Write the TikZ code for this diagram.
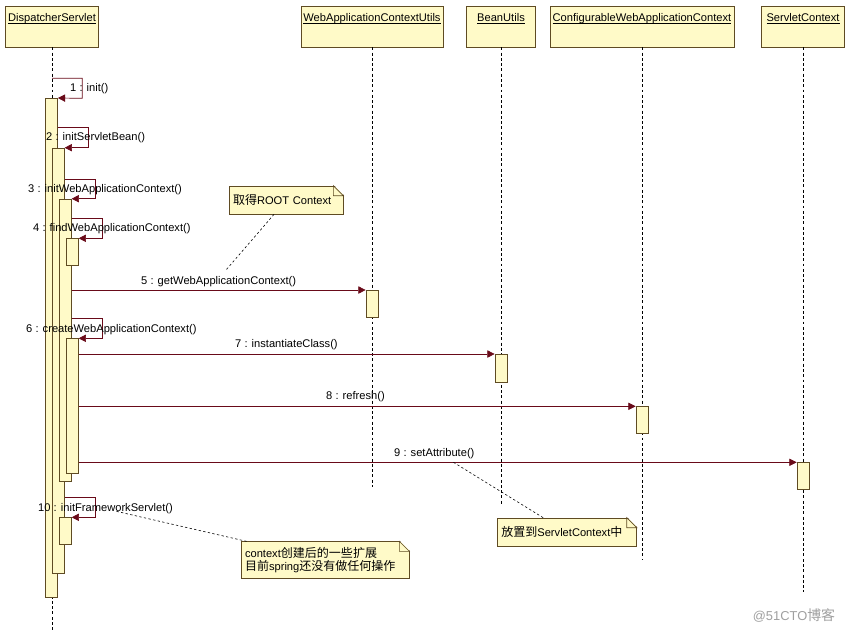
\documentclass[tikz,border=0pt]{standalone}
\usepackage{fontspec}
\setmainfont{Liberation Sans}
\newfontfamily\cjk[Scale=1.08]{Noto Sans CJK SC}
\usetikzlibrary{arrows.meta}
\definecolor{boxfill}{RGB}{255,250,200}
\definecolor{boxline}{RGB}{95,75,35}
\definecolor{msgred}{RGB}{105,10,25}
\newcommand\notefold[1]{%
  \fill[white] ([xshift=-0.3cm,yshift=1pt]#1.north east) -- ([xshift=1pt,yshift=1pt]#1.north east)
    -- ([xshift=1pt,yshift=-0.3cm]#1.north east) -- cycle;
  \draw[boxline, line width=0.6pt] ([xshift=-0.3cm]#1.north east) -- ([yshift=-0.3cm]#1.north east)
    -- ++(-0.3cm,0cm) -- cycle;}
\newcommand\headline[1]{\underline{\smash{#1}}}

\begin{document}
\begin{tikzpicture}[x=0.03cm, y=-0.03cm,
    font=\fontsize{9.5}{11.5}\selectfont,
    head/.style={draw=boxline, fill=boxfill, line width=0.6pt, minimum height=1.23cm, inner sep=0pt},
    bar/.style={draw=boxline, fill=boxfill, line width=0.6pt, minimum width=0.36cm, inner sep=0pt, anchor=north},
    note/.style={draw=boxline, fill=boxfill, line width=0.6pt, inner xsep=0.12cm, inner ysep=0pt, align=left},
    msg/.style={draw=msgred, line width=0.6pt, -{Triangle[length=0.22cm,width=0.22cm]}},
    life/.style={line width=0.5pt, dash pattern=on 2.5pt off 2pt},
    link/.style={line width=0.5pt, dash pattern=on 2pt off 2pt},
    lbl/.style={anchor=west, inner sep=0pt}]
  \useasboundingbox (0,0) rectangle (850,633);

  \node[head, minimum width=2.81cm] (ds)   at (52,26.5)  {};
  \node[head, minimum width=4.26cm] (wacu) at (372,26.5) {};
  \node[head, minimum width=2.07cm] (bu)   at (501,26.5) {};
  \node[head, minimum width=5.52cm] (cwac) at (642,26.5) {};
  \node[head, minimum width=2.49cm] (sc)   at (803,26.5) {};
  \node (dst)   at ([yshift=-0.5cm]ds.north)   {\headline{DispatcherServlet}};
  \node (wacut) at ([yshift=-0.5cm]wacu.north) {\headline{WebApplicationContextUtils}};
  \node (but)   at ([yshift=-0.5cm]bu.north)   {\headline{BeanUtils}};
  \node (cwact) at ([yshift=-0.5cm]cwac.north) {\headline{ConfigurableWebApplicationContext}};
  \node (sct)   at ([yshift=-0.5cm]sc.north)   {\headline{ServletContext}};

  \draw[life] (ds.south)   -- (ds |- 0,630);
  \draw[life] (wacu.south) -- (wacu |- 0,487);
  \draw[life] (bu.south)   -- (bu |- 0,505);
  \draw[life] (cwac.south) -- (cwac |- 0,559);
  \draw[life] (sc.south)   -- (sc |- 0,592);

  \node[bar, minimum height=14.97cm] (b1)  at (51.5,98)    {};
  \node[bar, minimum height=12.77cm] (b2)  at (58.3,147.7) {};
  \node[bar, minimum height=8.47cm]  (b3)  at (65.3,198.7) {};
  \node[bar, minimum height=0.8cm]   (b4)  at (72.3,238.3) {};
  \node[bar, minimum height=4.05cm]  (b6)  at (72.3,338.3) {};
  \node[bar, minimum height=0.81cm]  (b10) at (65.3,517.3) {};
  \node[bar, minimum height=0.81cm]  (b5)  at (wacu |- 0,290)   {};
  \node[bar, minimum height=0.83cm]  (b7)  at (bu |- 0,354)     {};
  \node[bar, minimum height=0.81cm]  (b8)  at (cwac |- 0,406.3) {};
  \node[bar, minimum height=0.81cm]  (b9)  at (sc |- 0,462.3)   {};

  \draw[msg] (ds |- 0,78.3)      -| (82.3,98.3)   -- (b1.north east);
  \draw[msg] (b1.east |- 0,127.3) -| (88.3,147.7)  -- (b2.north east);
  \draw[msg] (b2.east |- 0,179.3) -| (95.3,198.7)  -- (b3.north east);
  \draw[msg] (b3.east |- 0,218.3) -| (102.3,238.3) -- (b4.north east);
  \draw[msg] (b3.east |- 0,318.7) -| (102.3,338.3) -- (b6.north east);
  \draw[msg] (b2.east |- 0,497.3) -| (95.7,517.3)  -- (b10.north east);
  \draw[msg] (b3.east |- b5.north) -- (b5.north west);
  \draw[msg] (b6.east |- b7.north) -- (b7.north west);
  \draw[msg] (b6.east |- b8.north) -- (b8.north west);
  \draw[msg] (b6.east |- b9.north) -- (b9.north west);

  \node[lbl] (l1)  at (70,89)     {1 : init()};
  \node[lbl] (l2)  at (46,137.3)  {2 : initServletBean()};
  \node[lbl] (l3)  at (28,189.3)  {3 : initWebApplicationContext()};
  \node[lbl] (l4)  at (33,229)    {4 : findWebApplicationContext()};
  \node[lbl] (l5)  at (141,281.3) {5 : getWebApplicationContext()};
  \node[lbl] (l6)  at (26,329.3)  {6 : createWebApplicationContext()};
  \node[lbl] (l7)  at (235,345)   {7 : instantiateClass()};
  \node[lbl] (l8)  at (326,397)   {8 : refresh()};
  \node[lbl] (l9)  at (394,453.3) {9 : setAttribute()};
  \node[lbl] (l10) at (38,508.3)  {10 : initFrameworkServlet()};

  \node[note, minimum width=3.42cm, minimum height=0.84cm, text width=3.18cm] (n1) at (286,200)
    {{\cjk 取得}ROOT Context};
  \node[note, minimum width=4.17cm, minimum height=0.84cm, text width=3.93cm] (n2) at (566.8,532)
    {{\cjk 放置到}ServletContext{\cjk 中}};
  \node[note, minimum width=5.04cm, minimum height=1.11cm, text width=4.8cm] (n3) at (325,560.2)
    {context{\cjk 创建后的一些扩展}\\{\cjk 目前}spring{\cjk 还没有做任何操作}};
  \notefold{n1}
  \notefold{n2}
  \notefold{n3}

  \coordinate (n1end) at (226,270);
  \coordinate (n2end) at (453,462);
  \coordinate (n3end) at (115,511);
  \draw[link] ([xshift=-0.36cm]n1.south) -- (n1end);
  \draw[link] ([xshift=-0.71cm]n2.north) -- (n2end);
  \draw[link] ([xshift=0.18cm]n3.north west) -- (n3end);

  \node[text=gray!75, font=\fontsize{11}{13}\selectfont] (wm) at (794,615) {@51CTO{\cjk 博客}};
\end{tikzpicture}
\end{document}
